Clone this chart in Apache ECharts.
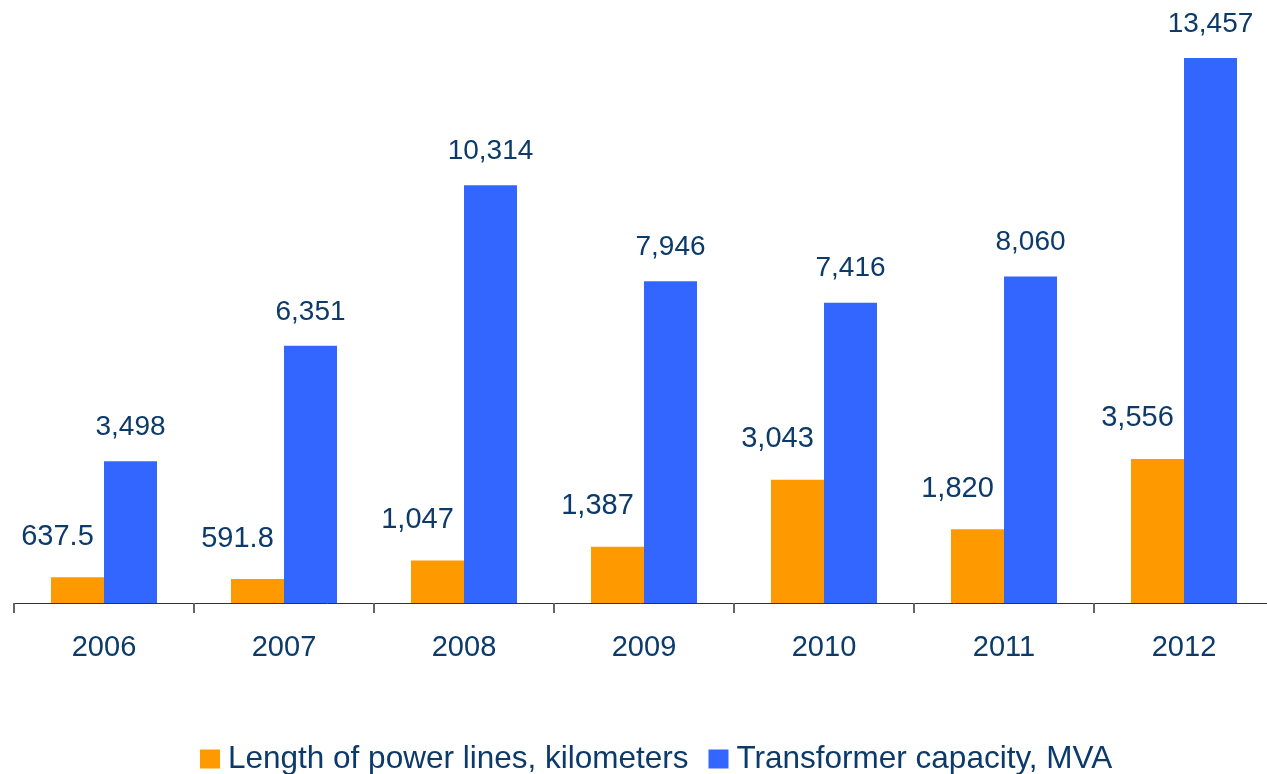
<!DOCTYPE html>
<html>
<head>
<meta charset="utf-8">
<script src="https://cdn.jsdelivr.net/npm/echarts@6/dist/echarts.min.js"></script>
<style>
  html, body { margin: 0; padding: 0; background: #fff; }
  #main { width: 1267px; height: 774px; }
</style>
</head>
<body>
<div id="main"></div>
<script>
var years = ['2006', '2007', '2008', '2009', '2010', '2011', '2012'];
var powerLines = [637.5, 591.8, 1047, 1387, 3043, 1820, 3556];
var transformer = [3498, 6351, 10314, 7946, 7416, 8060, 13457];
var seriesNames = ['Length of power lines, kilometers', 'Transformer capacity, MVA'];

var textColor = '#0b3a6b';
var font = 'Liberation Sans, Arial, sans-serif';

var fmt = function (p) {
    var v = p.value;
    if (v < 1000) return v.toFixed(1);
    return v.toLocaleString('en-US');
};

var chart = echarts.init(document.getElementById('main'));
var option = {
    animation: false,
    // plot runs a bit past the right edge, like the original
    grid: { left: 14, width: 1260, top: 36, bottom: 171, outerBoundsMode: 'none' },
    legend: {
        data: seriesNames,
        left: 195,
        top: 738,
        itemWidth: 20,
        itemHeight: 19,
        itemGap: 20,
        icon: 'rect',
        textStyle: { color: textColor, fontSize: 31.5, fontFamily: font, padding: [0, 0, 0, 3] }
    },
    xAxis: {
        type: 'category',
        data: years,
        axisLine: { lineStyle: { color: '#333', width: 1 } },
        axisTick: { show: true, length: 10, lineStyle: { color: '#666', width: 2 } },
        axisLabel: { color: textColor, fontSize: 29, fontFamily: font, margin: 30 }
    },
    yAxis: {
        type: 'value',
        min: 0,
        max: 14000,
        show: false,
        splitLine: { show: false }
    },
    series: [
        {
            name: seriesNames[0],
            type: 'bar',
            data: powerLines,
            barWidth: 53,
            barGap: '0%',
            itemStyle: { color: '#ff9900' },
            label: {
                show: true,
                position: 'top',
                distance: 26,
                offset: [-20, 0],
                color: textColor,
                fontSize: 29,
                fontFamily: font,
                formatter: fmt
            }
        },
        {
            name: seriesNames[1],
            type: 'bar',
            data: transformer,
            barWidth: 53,
            barGap: '0%',
            itemStyle: { color: '#3366ff' },
            label: {
                show: true,
                position: 'top',
                distance: 20,
                color: textColor,
                fontSize: 28,
                fontFamily: font,
                formatter: fmt
            }
        }
    ]
};
chart.setOption(option);
</script>
</body>
</html>
